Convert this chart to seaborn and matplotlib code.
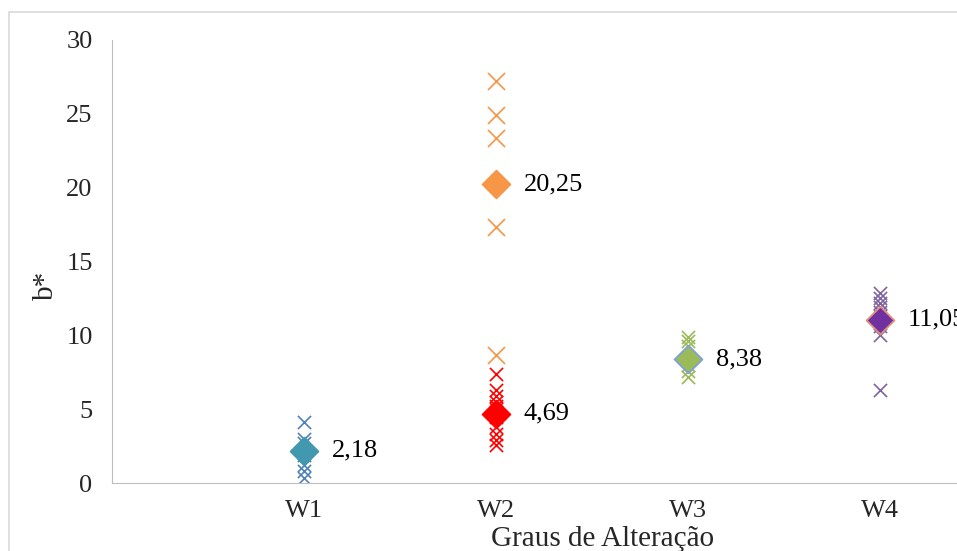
import pandas as pd
import seaborn as sns
import matplotlib.pyplot as plt
from matplotlib.patches import Rectangle


# ============================
# Data
# ============================

graus = ["W1", "W2", "W3", "W4"]

w1_b = [4.15, 2.95, 2.7, 1.9, 1.25, 0.8, 0.35]
w2_laranja_b = [27.2, 24.95, 23.35, 17.35, 8.65]
w2_vermelho_b = [7.4, 6.3, 5.9, 5.5, 5.2, 5.0, 4.8, 4.5, 3.8, 3.3, 2.9, 2.6]
w3_b = [9.9, 9.6, 9.3, 8.0, 7.6, 7.2]
w4_b = [12.9, 12.5, 12.2, 11.9, 11.6, 11.3, 11.0, 10.6, 10.0, 6.3]

medias_grau = ["W1", "W2", "W2", "W3", "W4"]
medias_b = [2.18, 20.25, 4.69, 8.38, 11.05]
medias_rotulo = ["2,18", "20,25", "4,69", "8,38", "11,05"]


# ============================
# Build tables
# ============================

series = [
    ("W1", w1_b, "#4F81BD", 90),
    ("W2", w2_laranja_b, "#F79646", 150),
    ("W2", w2_vermelho_b, "#FF0000", 90),
    ("W3", w3_b, "#9BBB59", 90),
    ("W4", w4_b, "#8064A2", 90),
]

media_cor = ["#4198AF", "#F79646", "#FF0000", "#9BBB59", "#7030A0"]
media_borda = ["#4198AF", "#F79646", "#FF0000", "#7F9FD8", "#E0907A"]

pos = {g: i + 1 for i, g in enumerate(graus)}


# ============================
# Plot
# ============================

sns.set_style("white")
plt.rcParams["font.family"] = ["Liberation Serif", "DejaVu Serif"]

fig = plt.figure(figsize=(9.57, 5.51), dpi=100)
ax = fig.add_axes([112 / 957, (551 - 483) / 551, (957 - 112) / 957, (483 - 40) / 551])

# chart border (cropped on right and bottom)
fig.patches.append(Rectangle((9 / 957, -0.1), 1.2, (551 - 12) / 551 + 0.1,
                             transform=fig.transFigure, fill=False,
                             edgecolor="#D9D9D9", linewidth=1.2))

for grau, vals, cor, tam in series:
    df = pd.DataFrame({"x": [pos[grau]] * len(vals), "b": vals})
    sns.scatterplot(data=df, x="x", y="b", marker="x", color=cor, s=tam,
                    linewidth=1.2, ax=ax, zorder=2)

medias = pd.DataFrame({"x": [pos[g] for g in medias_grau], "b": medias_b})
for i, row in medias.iterrows():
    sns.scatterplot(x=[row["x"]], y=[row["b"]], marker="D", s=200,
                    color=media_cor[i], edgecolor=media_borda[i],
                    linewidth=1.3, ax=ax, zorder=3)
    ax.annotate(medias_rotulo[i], (row["x"], row["b"]), xytext=(20, 0),
                textcoords="offset points", va="center", ha="left",
                fontsize=19, color="black", annotation_clip=False)

ax.set_xlim(0, 4.4)
ax.set_ylim(0, 30)
ax.set_xticks(range(1, len(graus) + 1))
ax.set_xticklabels(graus)
ax.set_yticks(range(0, 31, 5))
ax.tick_params(axis="x", direction="out", length=5, color="#BFBFBF",
               labelsize=19, pad=7)
ax.tick_params(axis="y", length=0, labelsize=19, pad=14)

ax.set_xlabel("Graus de Alteração", fontsize=21, labelpad=3)
ax.xaxis.set_label_coords(0.581, -0.098)
ax.set_ylabel("b*", fontsize=21, labelpad=6)
ax.yaxis.set_label_coords(-0.063, 0.447)

sns.despine(ax=ax, right=True, top=True)
ax.spines["left"].set_color("#BFBFBF")
ax.spines["bottom"].set_color("#BFBFBF")

fig.savefig("out.png", dpi=100)
